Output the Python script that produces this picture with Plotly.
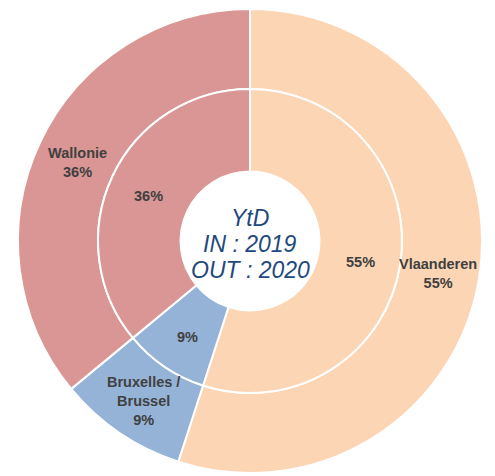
import math
import plotly.graph_objects as go

regions = ["Vlaanderen", "Bruxelles /<br>Brussel", "Wallonie"]
in_values = [55, 9, 36]    # inner ring (IN : 2019)
out_values = [55, 9, 36]   # outer ring (OUT : 2020)
colors = ["#FCD5B5", "#95B3D7", "#D99694"]
center_lines = ["YtD", "IN : 2019", "OUT : 2020"]

label_font = dict(family="Liberation Sans, Arial, sans-serif", size=14.5, color="#404040")

INNER_FRAC = 0.655  # inner ring outer radius relative to outer ring radius

fig = go.Figure()
fig.add_trace(go.Pie(
    values=out_values, labels=regions,
    sort=False, direction="clockwise", rotation=0,
    hole=INNER_FRAC, textinfo="none",
    marker=dict(colors=colors, line=dict(color="white", width=2)),
    domain=dict(x=[0, 1], y=[0, 1]),
    showlegend=False, hoverinfo="label+percent",
))
lo, hi = 0.5 - INNER_FRAC / 2, 0.5 + INNER_FRAC / 2
fig.add_trace(go.Pie(
    values=in_values, labels=regions,
    sort=False, direction="clockwise", rotation=0,
    hole=0.457, textinfo="none",
    marker=dict(colors=colors, line=dict(color="white", width=2)),
    domain=dict(x=[lo, hi], y=[lo, hi]),
    showlegend=False, hoverinfo="label+percent",
))

def add_ring_labels(values, labels, rfrac):
    total = sum(values)
    cum = 0
    for v, lab in zip(values, labels):
        mid = (cum + v / 2) / total * 2 * math.pi
        cum += v
        pct = f"{round(100 * v / total)}%"
        txt = f"<b>{lab}<br>{pct}</b>" if lab else f"<b>{pct}</b>"
        fig.add_annotation(
            text=txt, x=0.5 + rfrac / 2 * math.sin(mid), y=0.5 + rfrac / 2 * math.cos(mid),
            xref="paper", yref="paper", showarrow=False, font=label_font,
            xanchor="center", yanchor="middle", yshift=-3,
        )

add_ring_labels(out_values, regions, 0.82)
add_ring_labels(in_values, [None] * len(in_values), 0.483)

for i, line in enumerate(center_lines):
    fig.add_annotation(
        text="<i>" + line + "</i>", x=0.5, y=0.5, xref="paper", yref="paper",
        showarrow=False, yshift=(1 - i) * 26 - 3,
        font=dict(family="Liberation Sans, Arial, sans-serif", size=23, color="#1F497D"),
    )

fig.update_layout(
    width=487, height=468,
    margin=dict(l=10, r=13, t=1, b=3),
    paper_bgcolor="white", plot_bgcolor="white",
)
fig.write_html("out.html")
